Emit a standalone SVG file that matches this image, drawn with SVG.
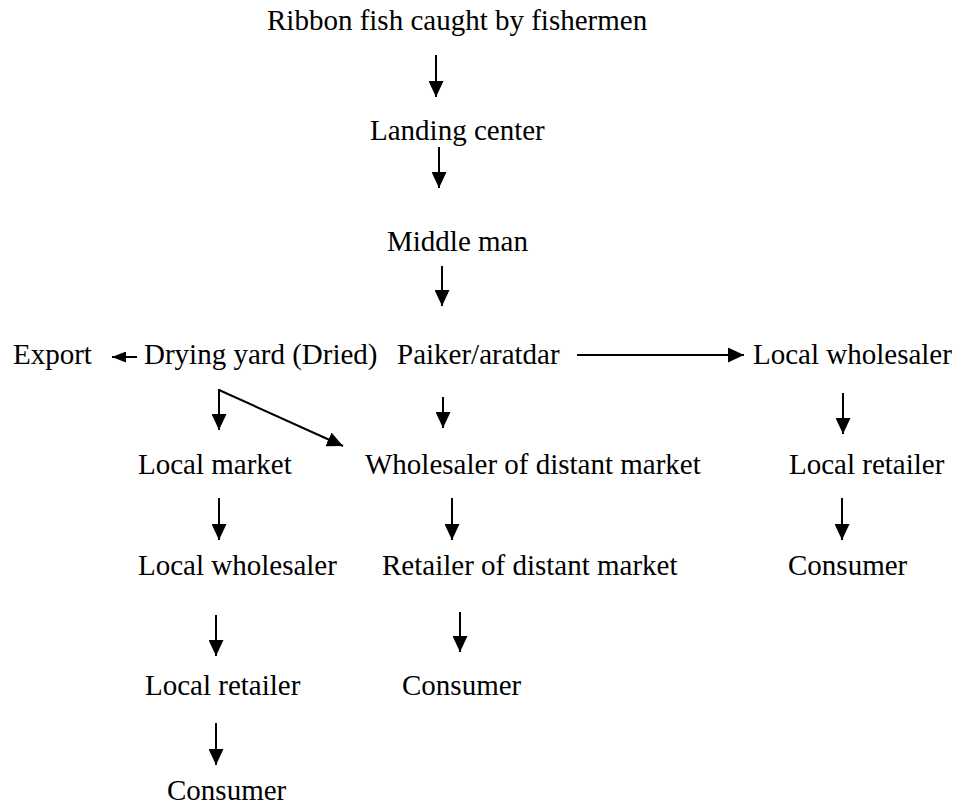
<svg xmlns="http://www.w3.org/2000/svg" width="961" height="811" viewBox="0 0 961 811">
<style>
text{font-family:"Liberation Serif","Times New Roman",serif;font-size:29px;fill:#000}
.c line{stroke:#000;stroke-width:2;fill:none}
</style>
<defs>
<marker id="ah" markerUnits="userSpaceOnUse" markerWidth="16" markerHeight="15" refX="16" refY="7.5" orient="auto" viewBox="0 0 16 15">
<path d="M0,0 L16,7.5 L0,15 z" fill="#000"/>
</marker>
<marker id="ahs" markerUnits="userSpaceOnUse" markerWidth="14" markerHeight="11" refX="14" refY="5.5" orient="auto" viewBox="0 0 14 11">
<path d="M0,0 L14,5.5 L0,11 z" fill="#000"/>
</marker>
</defs>
<rect width="961" height="811" fill="#fff"/>
<g id="n-ribbon"><text x="267" y="30">Ribbon fish caught by fishermen</text></g>
<g id="n-landing"><text x="370" y="140">Landing center</text></g>
<g id="n-middle"><text x="387" y="251">Middle man</text></g>
<g id="n-export"><text x="13" y="364">Export</text></g>
<g id="n-drying"><text x="144" y="364">Drying yard (Dried)</text></g>
<g id="n-paiker"><text x="397" y="364">Paiker/aratdar</text></g>
<g id="n-localwholesaler-r"><text x="753" y="364">Local wholesaler</text></g>
<g id="n-localmarket"><text x="138" y="474">Local market</text></g>
<g id="n-wholesaler-distant"><text x="365" y="474">Wholesaler of distant market</text></g>
<g id="n-localretailer-r"><text x="789" y="474">Local retailer</text></g>
<g id="n-localwholesaler-l"><text x="138" y="575">Local wholesaler</text></g>
<g id="n-retailer-distant"><text x="382" y="575">Retailer of distant market</text></g>
<g id="n-consumer-r"><text x="788" y="575">Consumer</text></g>
<g id="n-localretailer-l"><text x="145" y="695">Local retailer</text></g>
<g id="n-consumer-m"><text x="402" y="695">Consumer</text></g>
<g id="n-consumer-l"><text x="167" y="800">Consumer</text></g>
<g id="connectors" class="c">
<line x1="436" y1="55" x2="436" y2="97" marker-end="url(#ah)"/>
<line x1="439" y1="147" x2="439" y2="188" marker-end="url(#ah)"/>
<line x1="442" y1="266" x2="442" y2="306" marker-end="url(#ah)"/>
<line x1="137" y1="357" x2="112" y2="357" marker-end="url(#ahs)"/>
<line x1="577" y1="355" x2="744" y2="355" marker-end="url(#ah)"/>
<line x1="219" y1="389" x2="219" y2="430" marker-end="url(#ah)"/>
<line x1="219" y1="390" x2="343" y2="446" marker-end="url(#ah)"/>
<line x1="443" y1="397" x2="443" y2="428" marker-end="url(#ah)"/>
<line x1="843" y1="393" x2="843" y2="434" marker-end="url(#ah)"/>
<line x1="219" y1="498" x2="219" y2="540" marker-end="url(#ah)"/>
<line x1="452" y1="498" x2="452" y2="540" marker-end="url(#ah)"/>
<line x1="842" y1="498" x2="842" y2="540" marker-end="url(#ah)"/>
<line x1="216" y1="615" x2="216" y2="656" marker-end="url(#ah)"/>
<line x1="460" y1="612" x2="460" y2="652" marker-end="url(#ah)"/>
<line x1="216" y1="723" x2="216" y2="765" marker-end="url(#ah)"/>
</g>
</svg>
